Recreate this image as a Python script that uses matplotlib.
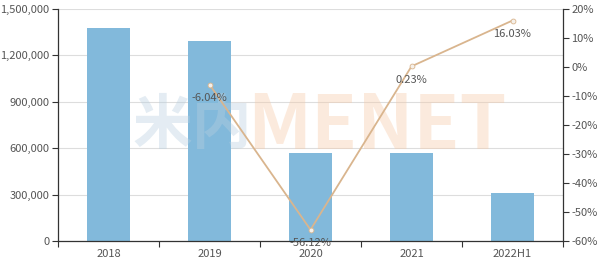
import matplotlib
matplotlib.use("Agg")
import matplotlib.pyplot as plt
from matplotlib.ticker import FuncFormatter, MultipleLocator
import numpy as np

plt.rcParams['font.family'] = ['Noto Sans CJK SC', 'DejaVu Sans']

categories = ["2018", "2019", "2020", "2021", "2022H1"]
sales = [1375000, 1291000, 567000, 568000, 312000]
growth_cats = ["2019", "2020", "2021", "2022H1"]
growth = [-6.04, -56.12, 0.23, 16.03]

bar_color = "#82b9db"
line_color = "#d9b58e"
text_color = "#555555"
axis_color = "#333333"

fig = plt.figure(figsize=(6.0, 2.63), dpi=100)
ax = fig.add_axes([58/600, 1-241/263, (563-58)/600, (241-9)/263])
x = np.arange(len(categories))
ax.bar(x, sales, width=0.43, color=bar_color, zorder=2)
ax.set_xlim(-0.5, len(categories)-0.5)
ax.set_ylim(0, 1500000)
ax.yaxis.set_major_locator(MultipleLocator(300000))
ax.yaxis.set_major_formatter(FuncFormatter(lambda v, p: f"{int(v):,}"))
ax.grid(axis='y', color='#dddddd', linewidth=0.8, zorder=0)
ax.set_axisbelow(True)
ax.set_xticks(x)
ax.set_xticklabels(categories)
ax.set_xticks(np.arange(len(categories)+1)-0.5, minor=True)
ax.tick_params(axis='x', which='major', length=0, pad=6, labelsize=8, labelcolor=text_color)
ax.tick_params(axis='x', which='minor', length=4, color=axis_color, width=0.8)
ax.tick_params(axis='y', length=4, color=axis_color, width=0.8, labelsize=8, labelcolor=text_color, pad=2)
for s in ['top', 'right']:
    ax.spines[s].set_visible(False)
for s in ['left', 'bottom']:
    ax.spines[s].set_color(axis_color)
    ax.spines[s].set_linewidth(0.9)

# watermark (semi-transparent, drawn over the bars)
ax.text(0.148, 0.49, "米内", transform=ax.transAxes, fontsize=43, fontweight='bold',
        color='#b8cfe0', alpha=0.38, ha='left', va='center', zorder=2.5)
ax.text(0.375, 0.49, "MENET", transform=ax.transAxes, fontsize=54, fontweight='bold',
        color='#f7c9a6', alpha=0.38, ha='left', va='center', zorder=2.5)

ax2 = ax.twinx()
ax2.set_ylim(-60, 20)
ax2.yaxis.set_major_locator(MultipleLocator(10))
ax2.yaxis.set_major_formatter(FuncFormatter(lambda v, p: f"{int(round(v))}%"))
gx = [categories.index(c) for c in growth_cats]
ax2.plot(gx, growth, color=line_color, linewidth=1.3, marker='o', markersize=3.5,
         markerfacecolor='#f5f0ea', markeredgecolor=line_color, markeredgewidth=0.6, zorder=3)
for xi, g in zip(gx, growth):
    ax2.annotate(f"{g:.2f}%", (xi, g), xytext=(0, -6), textcoords='offset points',
                 ha='center', va='top', fontsize=8, color=text_color)
ax2.tick_params(axis='y', length=4, color=axis_color, width=0.8, labelsize=8, labelcolor=text_color, pad=2)
for s in ['top', 'left', 'bottom']:
    ax2.spines[s].set_visible(False)
ax2.spines['right'].set_color(axis_color)
ax2.spines['right'].set_linewidth(0.9)

fig.savefig("out.png", dpi=100)
